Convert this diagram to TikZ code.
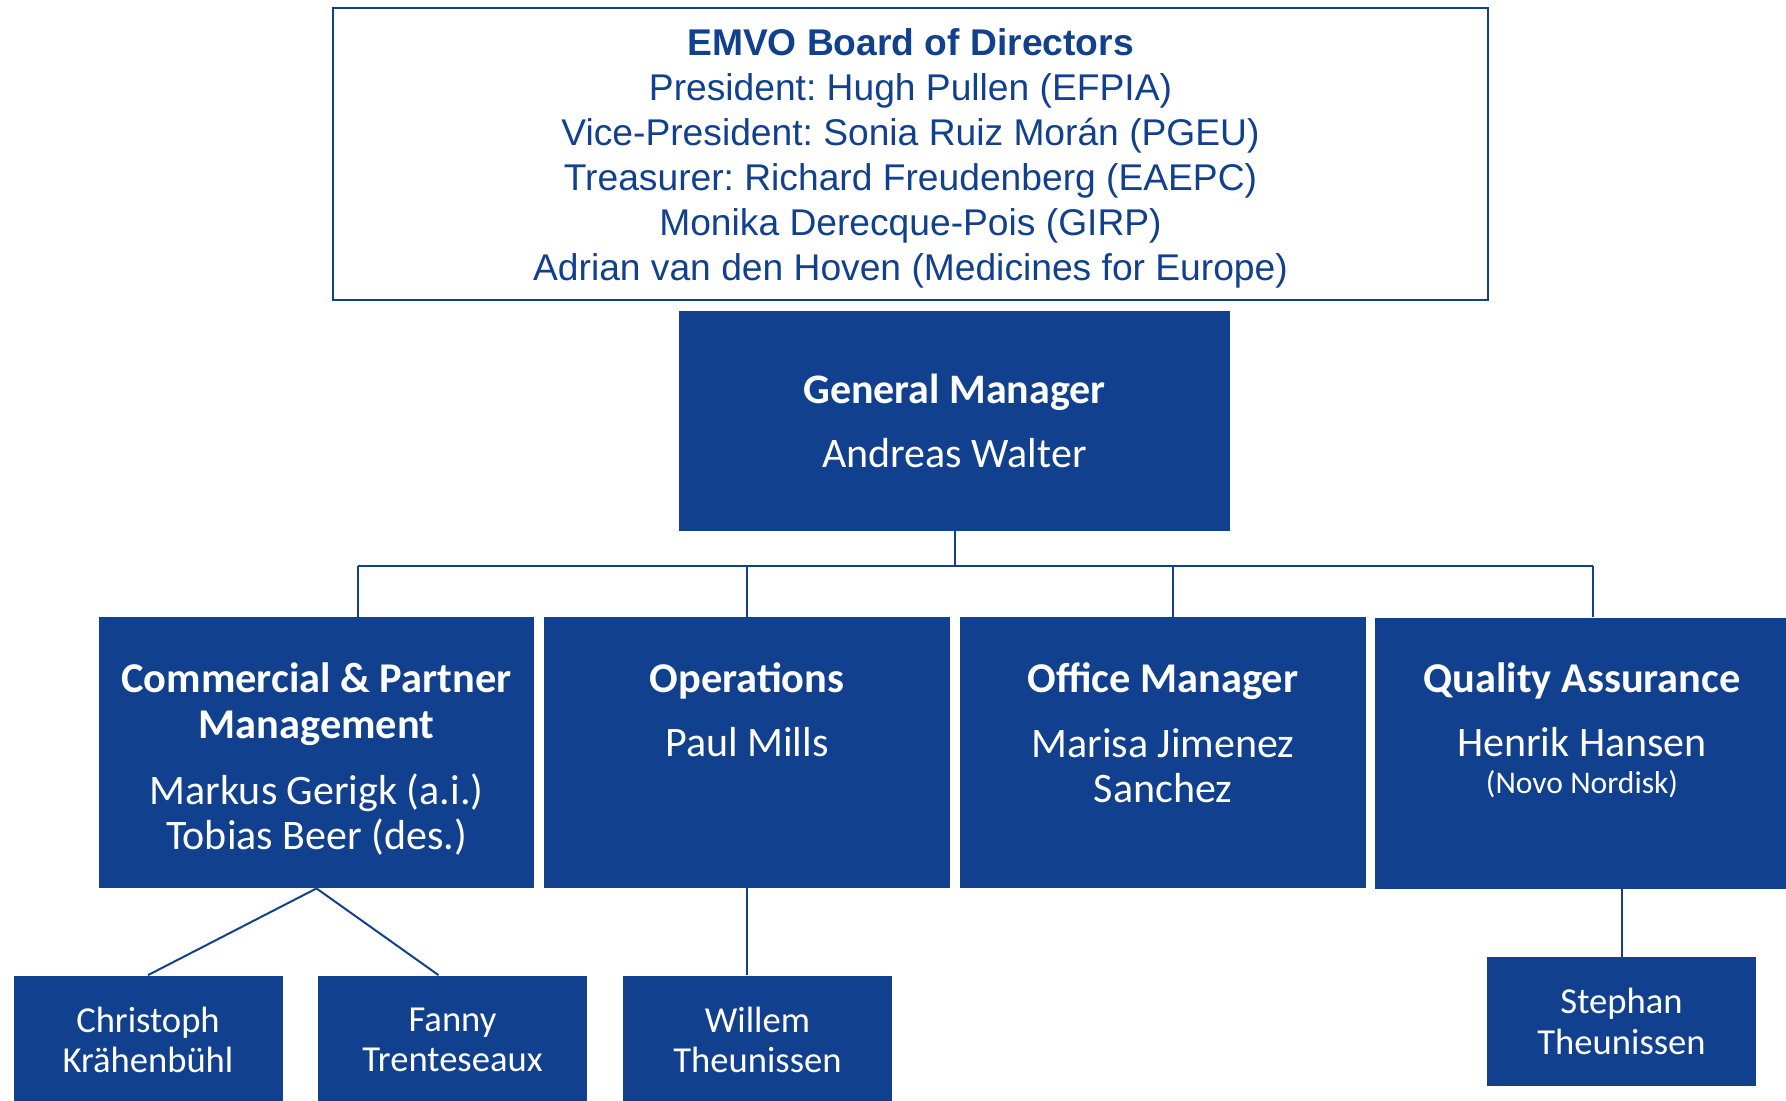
\documentclass[tikz,border=0pt]{standalone}
\usepackage{fontspec}
\setmainfont{Carlito}
\newfontfamily\arialfont{Liberation Sans}
\usetikzlibrary{positioning}
\definecolor{emvo}{RGB}{17,65,142}
\frenchspacing

\begin{document}
\begin{tikzpicture}
  [x=0.5pt,y=-0.5pt,
   board/.style={draw=emvo,line width=1pt,text=emvo,align=center,minimum width=577.5pt,minimum height=146pt,font=\arialfont\fontsize{18.6}{22.5}\selectfont},
   unit/.style={fill=emvo,inner sep=0pt,minimum height=135.5pt},
   staff/.style={fill=emvo,text=white,align=center,minimum width=134.5pt,minimum height=64.5pt,font=\fontsize{18.3}{20.25}\selectfont},
   unithead/.style={text=white,align=center,font=\bfseries\fontsize{21.2}{23}\selectfont},
   person/.style={text=white,align=center,font=\fontsize{21}{22.5}\selectfont},
   link/.style={emvo,line width=1pt}]
  \useasboundingbox (0,0) rectangle (1786,1100);
  % board of directors
  \node[board] (board) at (910.5,154) {\rule{0pt}{18pt}\textbf{EMVO Board of Directors}\\
    President: Hugh Pullen (EFPIA)\\
    Vice-President: Sonia Ruiz Morán (PGEU)\\
    Treasurer: Richard Freudenberg (EAEPC)\\
    Monika Derecque-Pois (GIRP)\\
    Adrian van den Hoven (Medicines for Europe)};
  % general manager
  \node[unit,minimum width=275.5pt,minimum height=110pt,text=white,align=center,font=\fontsize{21}{23}\selectfont] (gm) at (954.5,421) {\textbf{General Manager}\\[9pt]Andreas Walter};
  % departments
  \node[unit,minimum width=217.5pt] (com) at (316.5,752.5) {};
  \node[unit,minimum width=203pt] (ops) at (747,752.5) {};
  \node[unit,minimum width=203pt] (off) at (1163,752.5) {};
  \node[unit,minimum width=207pt] (qa) at (1582,753) {};
  \node[unithead] (com-h) at (316.5,704.5) {Commercial \& Partner\\Management};
  \node[person] (com-n) at (316.5,814.5) {Markus Gerigk (a.i.)\\Tobias Beer (des.)};
  \node[unithead] (ops-h) at (747,681) {Operations};
  \node[person] (ops-n) at (747,742) {Paul Mills};
  \node[unithead] (off-h) at (1163,681) {Office Manager};
  \node[person] (off-n) at (1163,765.5) {Marisa Jimenez\\Sanchez};
  \node[unithead] (qa-h) at (1582,681) {Quality Assurance};
  \node[person] (qa-n) at (1582,742) {Henrik Hansen};
  \node[person,font=\fontsize{15.8}{18}\selectfont] (qa-x) at (1582,784) {(Novo Nordisk)};
  % staff
  \node[staff] (christoph) at (148,1040) {Christoph\\Krähenbühl};
  \node[staff] (fanny) at (452.5,1040) {Fanny\\Trenteseaux};
  \node[staff] (willem) at (757.5,1040) {Willem\\Theunissen};
  \node[staff] (stephan) at (1621.5,1021.5) {Stephan\\Theunissen};
  % lines
  \coordinate (bus-com) at (358,566);
  \coordinate (bus-ops) at (747,566);
  \coordinate (bus-off) at (1173,566);
  \coordinate (bus-qa) at (1593,566);
  \begin{scope}[link]
    \draw (gm.south) -- (gm.south |- bus-com);
    \draw (bus-com) -- (bus-qa);
    \foreach \from/\to in {bus-com/com,bus-ops/ops,bus-off/off,bus-qa/qa}
      \draw (\from) -- (\from |- \to.north);
    \draw (com.south) -- (christoph.north);
    \draw (com.south) -- ([xshift=-7pt]fanny.north);
    \draw (ops.south) -- (ops.south |- willem.north);
    \draw (stephan.north) -- (stephan.north |- qa.south);
  \end{scope}
\end{tikzpicture}
\end{document}
